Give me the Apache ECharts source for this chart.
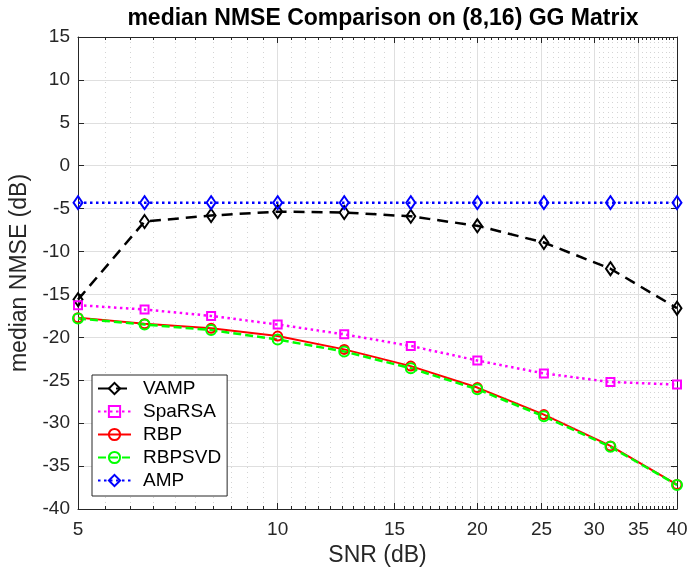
<!DOCTYPE html>
<html>
<head>
<meta charset="utf-8">
<script src="https://cdn.jsdelivr.net/npm/echarts@6/dist/echarts.min.js"></script>
<style>
  html, body { margin: 0; padding: 0; background: #fff; }
  #main { width: 692px; height: 573px; }
</style>
</head>
<body>
<div id="main"></div>
<script>
// SNR points (dB), log-spaced
const snr = [5, 6.2996, 7.9370, 10, 12.5992, 15.8740, 20, 25.1984, 31.7480, 40]

// median NMSE (dB) per method
const vamp = [-15.6, -6.5, -5.8, -5.35, -5.45, -5.9, -7.0, -8.95, -12.0, -16.6]
const sparsa = [-16.25, -16.75, -17.5, -18.5, -19.65, -21.0, -22.7, -24.2, -25.2, -25.5]
const rbp = [-17.7, -18.4, -18.95, -19.85, -21.4, -23.35, -25.85, -29.0, -32.65, -37.15]
const rbpsvd = [-17.8, -18.5, -19.15, -20.25, -21.65, -23.6, -26.05, -29.2, -32.75, -37.2]
const amp = [-4.3, -4.3, -4.3, -4.3, -4.3, -4.3, -4.3, -4.3, -4.3, -4.3]

// tick labels
const xTicks = [5, 10, 15, 20, 25, 30, 35, 40]
const xMinorTicks = []
for (let v = 5.5; v < 40; v += 0.5) {
  if (xTicks.indexOf(v) < 0) xMinorTicks.push(v)
}

const axisColor = '#262626'
const font = 'Liberation Sans, Arial, sans-serif'

const chart = echarts.init(document.getElementById('main'))

function pairs (ys) {
  return snr.map((x, i) => [x, ys[i]])
}

function xAxisDef (pos, ticks, major) {
  return {
    type: 'log',
    logBase: 10,
    min: 5,
    max: 40,
    position: pos,
    name: (major && pos === 'bottom') ? 'SNR (dB)' : '',
    nameLocation: 'middle',
    nameGap: 33,
    nameTextStyle: { fontFamily: font, fontSize: 23, color: axisColor },
    axisLine: { show: major, onZero: false, lineStyle: { color: axisColor, width: 1 } },
    axisTick: { show: true, inside: true, length: major ? 6 : 3, customValues: ticks, lineStyle: { color: axisColor } },
    axisLabel: {
      show: major && pos === 'bottom',
      customValues: ticks,
      margin: 11,
      fontFamily: font,
      fontSize: 19,
      color: axisColor
    },
    splitLine: {
      show: pos === 'bottom',
      lineStyle: major ? { color: '#dfdfdf', width: 1 } : { color: '#d4d4d4', width: 1, type: [1, 4] }
    }
  }
}

const option = {
  backgroundColor: '#fff',
  animation: false,
  title: {
    text: 'median NMSE Comparison on (8,16) GG Matrix',
    left: 378,
    textAlign: 'center',
    top: 2,
    textStyle: { fontFamily: font, fontSize: 23, fontWeight: 'bold', color: '#000' }
  },
  grid: { left: 78, right: 15, top: 37, bottom: 64, containLabel: false },
  legend: {
    orient: 'vertical',
    left: 92,
    top: 375,
    itemWidth: 33,
    itemHeight: 14,
    itemGap: 4,
    padding: [4, 6, 6, 5],
    backgroundColor: '#fff',
    borderColor: axisColor,
    borderWidth: 1,
    textStyle: { fontFamily: font, fontSize: 19, lineHeight: 18, color: '#000', padding: [0, 0, 0, 7] },
    data: ['VAMP', 'SpaRSA', 'RBP', 'RBPSVD', 'AMP']
  },
  xAxis: [
    xAxisDef('bottom', xTicks, true),
    xAxisDef('bottom', xMinorTicks, false),
    xAxisDef('top', xTicks, true),
    xAxisDef('top', xMinorTicks, false)
  ],
  yAxis: [
    {
      type: 'value',
      min: -40,
      max: 15,
      interval: 5,
      name: 'median NMSE (dB)',
      nameLocation: 'middle',
      nameGap: 45,
      nameTextStyle: { fontFamily: font, fontSize: 23, color: axisColor },
      axisLine: { show: true, lineStyle: { color: axisColor } },
      axisTick: { show: true, inside: true, length: 6, lineStyle: { color: axisColor } },
      axisLabel: { fontFamily: font, fontSize: 19, color: axisColor, margin: 8 },
      splitLine: { show: true, lineStyle: { color: '#dfdfdf', width: 1 } }
    },
    {
      type: 'value',
      min: -40,
      max: 15,
      interval: 5,
      position: 'right',
      axisLine: { show: true, lineStyle: { color: axisColor } },
      axisTick: { show: true, inside: true, length: 6, lineStyle: { color: axisColor } },
      axisLabel: { show: false },
      splitLine: { show: false }
    }
  ],
  series: [
    {
      name: 'VAMP',
      type: 'line',
      data: pairs(vamp),
      symbol: 'diamond',
      symbolSize: [9, 13],
      lineStyle: { color: '#000', width: 2.5, type: [11, 7] },
      itemStyle: { color: 'rgba(0,0,0,0)', borderColor: '#000', borderWidth: 2 }
    },
    {
      name: 'SpaRSA',
      type: 'line',
      data: pairs(sparsa),
      symbol: 'rect',
      symbolSize: 8,
      lineStyle: { color: '#ff00ff', width: 2.5, type: [2.5, 3.5] },
      itemStyle: { color: 'rgba(0,0,0,0)', borderColor: '#ff00ff', borderWidth: 2 }
    },
    {
      name: 'RBP',
      type: 'line',
      data: pairs(rbp),
      symbol: 'circle',
      symbolSize: 9,
      lineStyle: { color: '#ff0000', width: 2 },
      itemStyle: { color: 'rgba(0,0,0,0)', borderColor: '#ff0000', borderWidth: 2 }
    },
    {
      name: 'RBPSVD',
      type: 'line',
      data: pairs(rbpsvd),
      symbol: 'circle',
      symbolSize: 10,
      lineStyle: { color: '#00ff00', width: 2.5, type: [8, 4] },
      itemStyle: { color: 'rgba(0,0,0,0)', borderColor: '#00ff00', borderWidth: 2 }
    },
    {
      name: 'AMP',
      type: 'line',
      data: pairs(amp),
      symbol: 'diamond',
      symbolSize: [9, 13],
      lineStyle: { color: '#0000ff', width: 2.5, type: [2.5, 3.5] },
      itemStyle: { color: 'rgba(0,0,0,0)', borderColor: '#0000ff', borderWidth: 2 }
    }
  ]
}

chart.setOption(option)
</script>
</body>
</html>
